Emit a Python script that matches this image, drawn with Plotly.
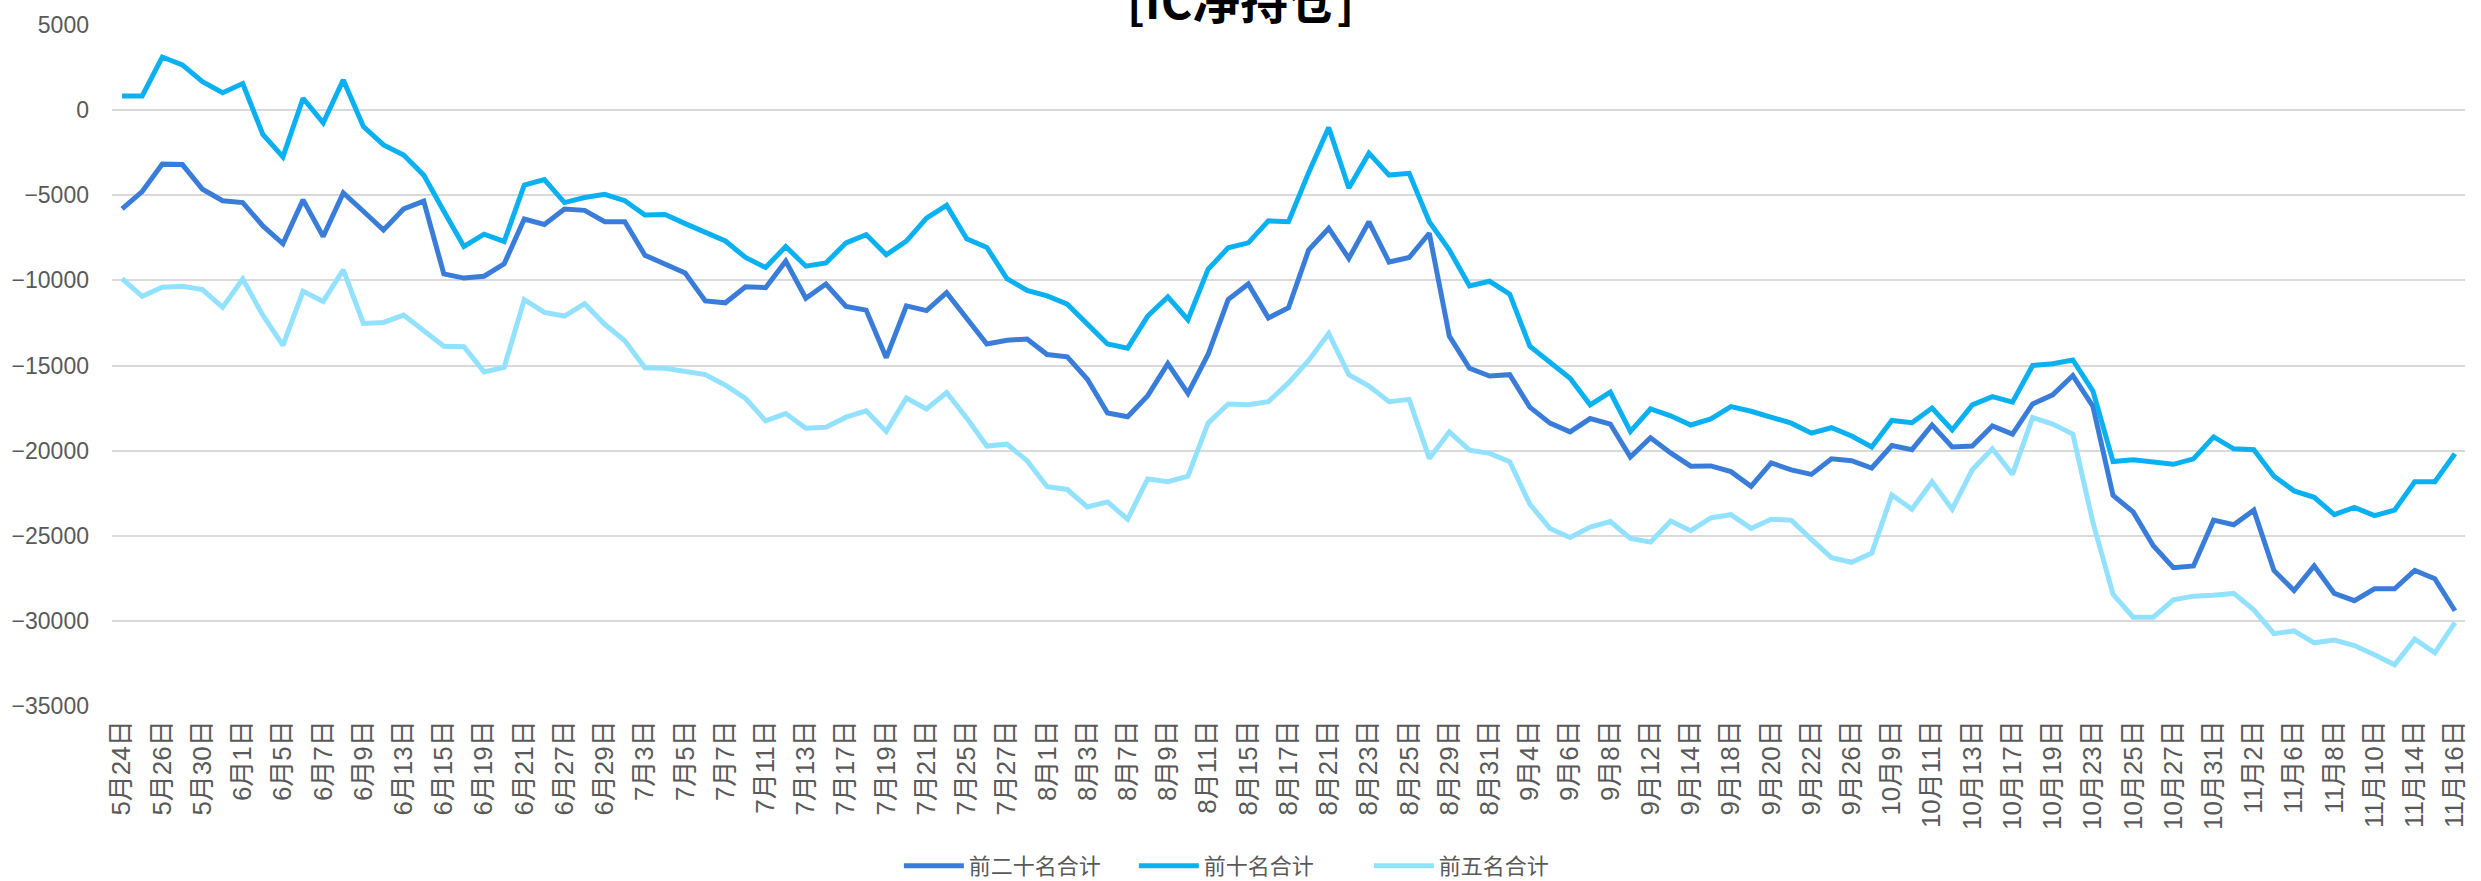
import plotly.graph_objects as go

dates = [
    "5月24日", "5月25日", "5月26日", "5月29日", "5月30日", "5月31日", "6月1日", "6月2日",
    "6月5日", "6月6日", "6月7日", "6月8日", "6月9日", "6月12日", "6月13日", "6月14日",
    "6月15日", "6月16日", "6月19日", "6月20日", "6月21日", "6月26日", "6月27日", "6月28日",
    "6月29日", "6月30日", "7月3日", "7月4日", "7月5日", "7月6日", "7月7日", "7月10日",
    "7月11日", "7月12日", "7月13日", "7月14日", "7月17日", "7月18日", "7月19日", "7月20日",
    "7月21日", "7月24日", "7月25日", "7月26日", "7月27日", "7月28日", "8月1日", "8月2日",
    "8月3日", "8月4日", "8月7日", "8月8日", "8月9日", "8月10日", "8月11日", "8月14日",
    "8月15日", "8月16日", "8月17日", "8月18日", "8月21日", "8月22日", "8月23日", "8月24日",
    "8月25日", "8月28日", "8月29日", "8月30日", "8月31日", "9月1日", "9月4日", "9月5日",
    "9月6日", "9月7日", "9月8日", "9月11日", "9月12日", "9月13日", "9月14日", "9月15日",
    "9月18日", "9月19日", "9月20日", "9月21日", "9月22日", "9月25日", "9月26日", "9月27日",
    "10月9日", "10月10日", "10月11日", "10月12日", "10月13日", "10月16日", "10月17日", "10月18日",
    "10月19日", "10月20日", "10月23日", "10月24日", "10月25日", "10月26日", "10月27日", "10月30日",
    "10月31日", "11月1日", "11月2日", "11月3日", "11月6日", "11月7日", "11月8日", "11月9日",
    "11月10日", "11月13日", "11月14日", "11月15日", "11月16日",
]

tick_labels = dates[::2]

top20 = [
    -5806, -4785, -3172, -3199, -4650, -5322, -5430, -6801, -7849, -5269,
    -7419, -4865, -5940, -7043, -5806, -5349, -9623, -9865, -9757, -9032,
    -6397, -6720, -5806, -5887, -6559, -6559, -8521, -9032, -9569, -11209,
    -11317, -10376, -10429, -8870, -11048, -10214, -11532, -11747, -14542, -11500,
    -11774, -10725, -12257, -13736, -13521, -13440, -14354, -14488, -15805, -17795,
    -18010, -16773, -14892, -16639, -14354, -11128, -10214, -12204, -11612, -8225,
    -6935, -8709, -6559, -8924, -8655, -7231, -13279, -15161, -15618, -15537,
    -17445, -18386, -18897, -18117, -18440, -20375, -19246, -20133, -20913, -20900,
    -21235, -22095, -20725, -21128, -21397, -20483, -20590, -21020, -19703, -19945,
    -18494, -19784, -19730, -18548, -19031, -17257, -16720, -15591, -17400, -22633,
    -23601, -25590, -26880, -26772, -24085, -24354, -23494, -27041, -28224, -26772,
    -28386, -28815, -28117, -28117, -27041, -27525, -29407,
]

top10 = [
    833, 833, 3118, 2661, 1667, 1021, 1559, -1425, -2742, 699,
    -753, 1774, -968, -2043, -2634, -3817, -5940, -8010, -7285, -7715,
    -4408, -4086, -5430, -5134, -4946, -5322, -6156, -6129, -6666, -7150,
    -7688, -8655, -9247, -8010, -9166, -8978, -7795, -7311, -8494, -7690,
    -6344, -5591, -7553, -8064, -9892, -10591, -10913, -11397, -12526, -13736,
    -13978, -12096, -10967, -12311, -9354, -8091, -7795, -6505, -6559, -3680,
    -1021, -4570, -2527, -3817, -3710, -6559, -8225, -10322, -10053, -10806,
    -13870, -14811, -15752, -17311, -16558, -18870, -17553, -17956, -18494, -18140,
    -17418, -17687, -18010, -18386, -18977, -18655, -19139, -19784, -18225, -18359,
    -17499, -18790, -17311, -16827, -17150, -14999, -14892, -14677, -16504, -20644,
    -20537, -20644, -20805, -20483, -19193, -19892, -19945, -21504, -22364, -22740,
    -23762, -23332, -23816, -23494, -21827, -21827, -20187,
]

top5 = [
    -9892, -10940, -10403, -10349, -10537, -11585, -9919, -12042, -13816, -10644,
    -11236, -9381, -12526, -12472, -12042, -12983, -13870, -13897, -15375, -15107,
    -11128, -11881, -12096, -11370, -12580, -13548, -15134, -15161, -15348, -15537,
    -16155, -16934, -18252, -17821, -18682, -18628, -18036, -17660, -18870, -16907,
    -17553, -16585, -18090, -19730, -19622, -20590, -22122, -22283, -23305, -23010,
    -24031, -21665, -21827, -21504, -18386, -17257, -17311, -17123, -16021, -14700,
    -13117, -15537, -16209, -17123, -16989, -20456, -18897, -19972, -20160, -20644,
    -23144, -24569, -25106, -24488, -24166, -25160, -25375, -24139, -24703, -23950,
    -23762, -24569, -24031, -24085, -25214, -26289, -26558, -26020, -22606, -23439,
    -21827, -23439, -21128, -19892, -21397, -18064, -18440, -19031, -24220, -28439,
    -29783, -29783, -28762, -28547, -28493, -28386, -29354, -30751, -30590, -31289,
    -31127, -31450, -31987, -32579, -31073, -31880, -30106,
]

series_names = ["前二十名合计", "前十名合计", "前五名合计"]
series_colors = ["#3A7DD9", "#0AB0F0", "#92E1FF"]
series_values = [top20, top10, top5]

FONT = "Liberation Sans, Arial, Noto Sans CJK SC, sans-serif"

fig = go.Figure()
for name, color, vals in zip(series_names, series_colors, series_values):
    fig.add_trace(go.Scatter(
        x=dates, y=vals, name=name, mode="lines",
        line=dict(color=color, width=5),
    ))

fig.update_layout(
    width=2481, height=881,
    margin=dict(l=105, r=13, t=22, b=175),
    paper_bgcolor="white", plot_bgcolor="white",
    font=dict(family=FONT, color="#595959"),
    title=dict(
        text="<b>[IC净持仓]</b>",
        font=dict(size=48, color="black", family="Noto Sans CJK SC, sans-serif"),
        x=0.5, xref="container", xanchor="center",
        y=0.997, yref="container", yanchor="middle",
    ),
    showlegend=True,
    legend=dict(
        orientation="h", x=0.3623, xanchor="left", xref="container",
        y=0.017, yref="container", yanchor="middle",
        font=dict(size=22, color="#595959", family="Noto Sans CJK SC, sans-serif"),
        itemwidth=60, traceorder="normal",
        entrywidth=160, entrywidthmode="pixels",
    ),
)

fig.update_xaxes(
    type="category", range=[-0.5, len(dates) - 0.5],
    tickmode="array", tickvals=tick_labels, ticktext=tick_labels,
    tickangle=-90, tickfont=dict(size=26, color="#595959", family=FONT),
    showgrid=False, showline=False, zeroline=False, ticks="",
    ticklabelstandoff=8,
)

fig.update_yaxes(
    range=[-35000, 5000], dtick=5000, tick0=0, tickformat="d",
    tickfont=dict(size=23, color="#595959", family=FONT),
    showgrid=True, gridcolor="#D9D9D9", gridwidth=1.5,
    zeroline=False, showline=False, ticks="",
    ticklabelstandoff=22,
)

fig.write_html(
    "out.html",
    config={"displayModeBar": False},
    post_script="document.body.style.margin='0';document.body.style.overflow='hidden';",
)
